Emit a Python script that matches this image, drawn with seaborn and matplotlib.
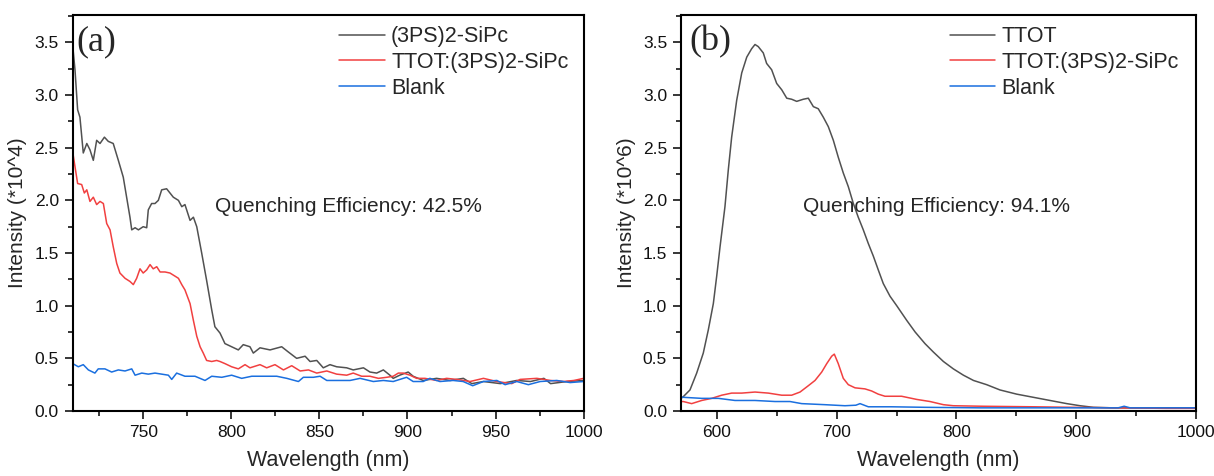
import numpy as np
import pandas as pd
import matplotlib
matplotlib.use("Agg")
import matplotlib.pyplot as plt
from matplotlib.ticker import MultipleLocator
import seaborn as sns

# ---------------- Panel (a) data ----------------
a_sipc_x = [710, 711.3, 712.8, 714.1, 716, 718, 719.8, 721.7, 723.6, 725.5, 728, 730.2, 733, 735.9,
            738.7, 740.6, 742.5, 743.5, 745.4, 747.3, 750, 752, 752.9, 754.8, 756.7, 758.6, 760.5,
            763.3, 765.2, 767.1, 770, 771.9, 773.7, 776.6, 778.5, 780.4, 783.2, 786, 788.9, 790.7,
            793.6, 796.4, 800.2, 804, 806.8, 810.6, 812.5, 816.3, 822, 828.6, 832.4, 837.1, 841.9,
            844.7, 848.5, 852.2, 856, 859.8, 865.5, 869.2, 875, 878.7, 882.5, 886.3, 890, 891.9,
            895.6, 900.4, 903.2, 908.9, 916.5, 924.2, 931.7, 936.5, 943.1, 952.7, 962, 969.8, 977.4,
            981.2, 990.6, 1000]
a_sipc_y = [3.47, 3.24, 2.86, 2.79, 2.45, 2.54, 2.48, 2.38, 2.57, 2.54, 2.60, 2.56, 2.54, 2.38,
            2.22, 2.03, 1.84, 1.72, 1.74, 1.72, 1.75, 1.74, 1.91, 1.97, 1.97, 2.00, 2.10,
            2.11, 2.07, 2.03, 2.00, 1.94, 1.96, 1.81, 1.84, 1.75, 1.50, 1.24, 0.96, 0.80,
            0.74, 0.64, 0.61, 0.58, 0.63, 0.61, 0.55, 0.60, 0.58, 0.61, 0.56, 0.50, 0.52,
            0.47, 0.48, 0.41, 0.44, 0.42, 0.41, 0.39, 0.41, 0.37, 0.36, 0.39, 0.34, 0.31,
            0.34, 0.37, 0.33, 0.29, 0.31, 0.29, 0.31, 0.26, 0.28, 0.26, 0.29, 0.28, 0.31,
            0.26, 0.28, 0.29]

a_mix_x = [710, 711.3, 712.8, 715.1, 716.6, 718, 719.8, 721.7, 723.6, 725.5, 727.4, 729.3, 731.2,
           733, 735, 736.8, 739.7, 742.5, 744.4, 746.3, 748.2, 750, 752, 753.9, 755.7, 757.7,
           759.6, 762.4, 765.2, 768.1, 770, 771.9, 773.7, 776.6, 778.5, 780.4, 782.3, 784.1, 786,
           788.9, 791.7, 793.6, 796.4, 800.2, 804, 807.8, 810.6, 816.3, 820.1, 824.8, 829.6,
           834.3, 839.1, 843.8, 848.5, 854.2, 859.8, 865.5, 869.2, 874, 878.7, 883.5, 888.2,
           891.9, 894.8, 897.6, 901.4, 905.2, 909.9, 916.5, 922.2, 927.9, 935.5, 943.1, 950.7,
           959.2, 963.9, 973.4, 981.2, 988.7, 994.4, 1000]
a_mix_y = [2.46, 2.32, 2.16, 2.15, 2.07, 2.10, 1.99, 2.03, 1.96, 1.99, 1.97, 1.78, 1.72,
           1.56, 1.40, 1.31, 1.26, 1.23, 1.20, 1.26, 1.35, 1.31, 1.34, 1.39, 1.35, 1.37,
           1.32, 1.32, 1.31, 1.28, 1.26, 1.20, 1.15, 1.02, 0.86, 0.71, 0.61, 0.55, 0.48,
           0.47, 0.48, 0.47, 0.45, 0.42, 0.40, 0.44, 0.41, 0.44, 0.41, 0.44, 0.39,
           0.43, 0.38, 0.39, 0.36, 0.38, 0.35, 0.34, 0.36, 0.33, 0.33, 0.31, 0.32,
           0.33, 0.36, 0.36, 0.34, 0.31, 0.31, 0.29, 0.31, 0.30, 0.28, 0.31, 0.28,
           0.26, 0.30, 0.31, 0.29, 0.28, 0.29, 0.31]

a_blank_x = [710, 713.2, 716, 718.9, 722.6, 724.5, 728.3, 732.1, 735.9, 739.7, 743.5, 745.4, 749.2,
             752.9, 756.7, 760.5, 764.3, 766.2, 769, 773.7, 779.4, 785.1, 788.9, 794.6, 800.2,
             805.9, 811.6, 814.4, 820.1, 825.8, 831.5, 838.1, 840.9, 846.6, 850.4, 854.2, 859.8,
             867.4, 873.1, 880.6, 886.3, 891.9, 899.5, 903.2, 908.9, 912.7, 918.4, 925.9, 931.6,
             937, 943.1, 950.7, 955.4, 962, 968.6, 975.3, 984.7, 992.3, 1000]
a_blank_y = [0.45, 0.42, 0.44, 0.39, 0.36, 0.40, 0.40, 0.37, 0.39, 0.38, 0.40, 0.34, 0.36,
             0.35, 0.36, 0.35, 0.34, 0.30, 0.36, 0.33, 0.33, 0.29, 0.33, 0.32, 0.34,
             0.31, 0.33, 0.33, 0.33, 0.33, 0.31, 0.28, 0.32, 0.32, 0.33, 0.29, 0.29,
             0.29, 0.31, 0.28, 0.29, 0.28, 0.32, 0.28, 0.28, 0.31, 0.28, 0.29, 0.28,
             0.24, 0.28, 0.29, 0.25, 0.28, 0.25, 0.28, 0.29, 0.27, 0.28]

# ---------------- Panel (b) data ----------------
b_ttot_x = [570, 571.9, 577.5, 583.1, 588.6, 592.8, 597, 599.8, 602.6, 606.7, 609.5, 612.3, 616.5,
            620.7, 624.9, 629, 631.8, 634.5, 638.7, 641.5, 645.7, 649.9, 654.1, 658.3, 662.4,
            666.6, 672.1, 676.3, 680.5, 684.6, 688.8, 693, 697.2, 701.3, 705.5, 709.7, 713.9,
            718, 722.2, 726.4, 730.6, 734.7, 738.9, 744.5, 750.1, 758.5, 765.5, 773.7, 780.7,
            789.1, 797.4, 805.8, 814.2, 825.2, 836.3, 850.3, 864.2, 878.1, 892.1, 903.2, 914.3,
            930, 950, 975, 1000]
b_ttot_y = [0.12, 0.136, 0.20, 0.36, 0.55, 0.77, 1.02, 1.28, 1.56, 1.94, 2.29, 2.60, 2.95,
            3.21, 3.36, 3.44, 3.48, 3.46, 3.40, 3.30, 3.24, 3.11, 3.05, 2.97, 2.96,
            2.94, 2.96, 2.97, 2.89, 2.87, 2.79, 2.70, 2.57, 2.41, 2.26, 2.13, 1.97,
            1.84, 1.72, 1.59, 1.47, 1.34, 1.21, 1.09, 1.00, 0.86, 0.75, 0.64, 0.56,
            0.47, 0.40, 0.34, 0.29, 0.25, 0.20, 0.16, 0.13, 0.10, 0.07, 0.05, 0.035,
            0.03, 0.03, 0.03, 0.03]

b_mix_x = [570, 571.9, 578.9, 587.3, 595.6, 604, 612.3, 620.7, 631.8, 642.9, 654.1, 662.4, 669.4,
           676.3, 681.9, 687.5, 691.7, 695.8, 698, 701.3, 705.5, 709.7, 715.3, 723.6, 729.2,
           734.7, 740.3, 754.2, 766.8, 777.9, 789.1, 797.4, 822.4, 864.2, 897.6, 933.8, 975.5, 1000]
b_mix_y = [0.09, 0.09, 0.07, 0.10, 0.12, 0.15, 0.17, 0.17, 0.18, 0.17, 0.15, 0.15, 0.18,
           0.24, 0.29, 0.37, 0.45, 0.52, 0.54, 0.45, 0.31, 0.25, 0.22, 0.21, 0.19,
           0.16, 0.14, 0.14, 0.11, 0.09, 0.06, 0.05, 0.045, 0.04, 0.035, 0.03, 0.025, 0.025]

b_blank_x = [570, 571.9, 587.3, 601.2, 615.1, 631.8, 648.5, 661, 670.8, 690.2, 706.9, 716, 719.5,
             726.4, 745.9, 773.7, 820, 880, 935, 940, 945, 1000]
b_blank_y = [0.13, 0.13, 0.12, 0.12, 0.10, 0.10, 0.09, 0.09, 0.07, 0.06, 0.05, 0.055, 0.07,
             0.04, 0.04, 0.035, 0.03, 0.03, 0.03, 0.045, 0.03, 0.03]

labels_a = ["(3PS)2-SiPc", "TTOT:(3PS)2-SiPc", "Blank"]
labels_b = ["TTOT", "TTOT:(3PS)2-SiPc", "Blank"]
colors = ["#515151", "#F14040", "#1A6FDF"]

def frame(series):
    parts = []
    for name, xs, ys in series:
        parts.append(pd.DataFrame({"x": xs, "y": ys, "s": name}))
    return pd.concat(parts, ignore_index=True)

df_a = frame([(labels_a[0], a_sipc_x, a_sipc_y),
              (labels_a[1], a_mix_x, a_mix_y),
              (labels_a[2], a_blank_x, a_blank_y)])
df_b = frame([(labels_b[0], b_ttot_x, b_ttot_y),
              (labels_b[1], b_mix_x, b_mix_y),
              (labels_b[2], b_blank_x, b_blank_y)])

sns.set_style("ticks")
plt.rcParams['font.family'] = ['Liberation Sans', 'DejaVu Sans']

fig = plt.figure(figsize=(12.14, 4.76), dpi=100)
ax_a = fig.add_axes([72.7 / 1214, 65 / 476, 511 / 1214, 396 / 476])
ax_b = fig.add_axes([681 / 1214, 65 / 476, 515 / 1214, 396 / 476])

panels = [
    (ax_a, df_a, labels_a, (710, 1000), 50, 25, "Intensity (*10^4)", "(a)",
     "Quenching Efficiency: 42.5%", 791, 0.0075),
    (ax_b, df_b, labels_b, (570, 1000), 100, 50, "Intensity (*10^6)", "(b)",
     "Quenching Efficiency: 94.1%", 672, 0.017),
]

for ax, df, labels, xlim, xmaj, xmin, ylab, tag, qtext, qx, tagx in panels:
    sns.lineplot(data=df, x="x", y="y", hue="s", hue_order=labels,
                 palette=dict(zip(labels, colors)), sort=False, estimator=None,
                 linewidth=1.1, ax=ax)
    ax.set_xlim(*xlim)
    ax.set_ylim(0, 3.76)
    ax.xaxis.set_major_locator(MultipleLocator(xmaj))
    ax.xaxis.set_minor_locator(MultipleLocator(xmin))
    ax.yaxis.set_major_locator(MultipleLocator(0.5))
    ax.yaxis.set_minor_locator(MultipleLocator(0.25))
    ax.yaxis.set_major_formatter(matplotlib.ticker.FormatStrFormatter('%.1f'))
    ax.tick_params(which='major', direction='out', length=6, width=1.1, labelsize=12.5,
                   pad=4, color='black', labelcolor='#111111')
    ax.tick_params(which='minor', direction='out', length=3.5, width=1.1, color='black')
    ax.tick_params(top=False, right=False, which='both')
    for sp in ax.spines.values():
        sp.set_visible(True)
        sp.set_linewidth(1.5)
        sp.set_color('black')
    ax.set_xlabel("Wavelength (nm)", fontsize=15.5, labelpad=7)
    ax.set_ylabel(ylab, fontsize=15, labelpad=5)
    ax.text(tagx, 0.975, tag, transform=ax.transAxes, ha='left', va='top',
            fontsize=26, family=['Liberation Serif', 'DejaVu Serif'])
    ax.text(qx, 1.94, qtext, ha='left', va='center', fontsize=15)
    handles, lbls = ax.get_legend_handles_labels()
    ax.legend(handles, lbls, loc='upper left', bbox_to_anchor=(0.522, 0.972),
              frameon=False, fontsize=15.5, handlelength=2.1, handletextpad=0.3,
              labelspacing=0.22, borderpad=0, borderaxespad=0)

fig.savefig("out.png", dpi=100)
